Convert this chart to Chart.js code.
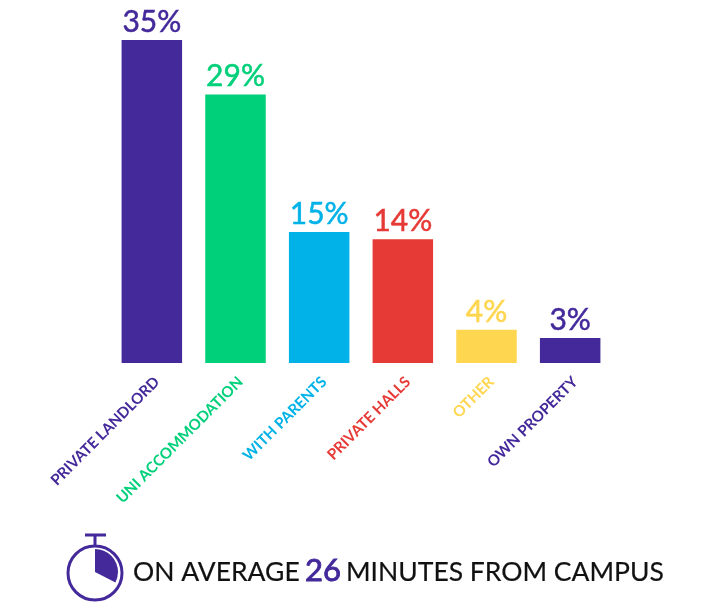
<!DOCTYPE html>
<html>
<head>
<meta charset="utf-8">
<title>Where students live</title>
<script src="https://cdn.jsdelivr.net/npm/chart.js@4"></script>
<style>
  html, body { margin: 0; background: #fff; }
  canvas { display: block; }
</style>
</head>
<body>
<canvas id="chart" width="713" height="616"></canvas>
<script>
const categories = ['PRIVATE LANDLORD', 'UNI ACCOMMODATION', 'WITH PARENTS', 'PRIVATE HALLS', 'OTHER', 'OWN PROPERTY'];
// bar heights as drawn, they run a little short of the printed labels on the smaller bars
const barValues = [35, 29.1, 14.2, 13.4, 3.6, 2.7];
const valueLabels = ['35%', '29%', '15%', '14%', '4%', '3%'];
const barColors = ['#44299b', '#00d07a', '#00b2e8', '#e63a36', '#ffd64f', '#44299b'];
const footerParts = [
  { text: 'ON AVERAGE', color: '#111', size: 26.5, stroke: 0.2, x: 133 },
  { text: '26', color: '#44299b', size: 31, stroke: 0.9, x: 305 },
  { text: 'MINUTES FROM CAMPUS', color: '#111', size: 26.5, stroke: 0.2, x: 346 },
];

const FONT = 'Lato, sans-serif';

// Percent labels above the bars
const valueLabelPlugin = {
  id: 'valueLabels',
  afterDatasetsDraw(chart) {
    const ctx = chart.ctx;
    ctx.save();
    ctx.font = `400 30px ${FONT}`;
    ctx.textAlign = 'center';
    ctx.textBaseline = 'alphabetic';
    ctx.lineWidth = 0.5;
    chart.getDatasetMeta(0).data.forEach((bar, i) => {
      ctx.fillStyle = barColors[i];
      ctx.strokeStyle = barColors[i];
      ctx.fillText(valueLabels[i], bar.x, bar.y - 8);
      ctx.strokeText(valueLabels[i], bar.x, bar.y - 8);
    });
    ctx.restore();
  },
};

// Stopwatch and the line of text under the chart
const footerPlugin = {
  id: 'footer',
  afterDraw(chart) {
    const ctx = chart.ctx;
    ctx.save();
    ctx.strokeStyle = '#44299b';
    ctx.fillStyle = '#44299b';
    ctx.lineWidth = 3;
    ctx.beginPath();
    ctx.arc(95, 573, 27, 0, Math.PI * 2);
    ctx.moveTo(95, 546);
    ctx.lineTo(95, 535);
    ctx.moveTo(85, 535);
    ctx.lineTo(106, 535);
    ctx.stroke();

    ctx.beginPath();
    ctx.moveTo(95, 572);
    ctx.arc(95, 572, 23, -Math.PI / 2, (27 * Math.PI) / 180);
    ctx.closePath();
    ctx.fill();

    ctx.textBaseline = 'alphabetic';
    ctx.textAlign = 'left';
    footerParts.forEach((part) => {
      ctx.font = `400 ${part.size}px ${FONT}`;
      ctx.fillStyle = part.color;
      ctx.strokeStyle = part.color;
      ctx.lineWidth = part.stroke;
      ctx.fillText(part.text, part.x, 581);
      ctx.strokeText(part.text, part.x, 581);
    });
    ctx.restore();
  },
};

new Chart(document.getElementById('chart'), {
  type: 'bar',
  data: {
    labels: categories,
    datasets: [
      {
        data: barValues,
        backgroundColor: barColors,
        borderWidth: 0,
        barPercentage: 0.723,
        categoryPercentage: 1,
      },
    ],
  },
  options: {
    responsive: false,
    animation: false,
    layout: { padding: { top: 40, left: 110, right: 101, bottom: 0 } },
    plugins: {
      legend: { display: false },
      tooltip: { enabled: false },
    },
    scales: {
      x: {
        afterFit: (scale) => {
          scale.height = 253;
        },
        border: { display: false },
        grid: { display: false },
        ticks: {
          autoSkip: false,
          minRotation: 45,
          maxRotation: 45,
          padding: 2,
          labelOffset: 5,
          font: { family: FONT, size: 15.1, weight: 700 },
          color: (c) => barColors[c.index],
        },
      },
      y: {
        display: false,
        min: 0,
        max: 35,
      },
    },
  },
  plugins: [valueLabelPlugin, footerPlugin],
});
</script>
</body>
</html>
